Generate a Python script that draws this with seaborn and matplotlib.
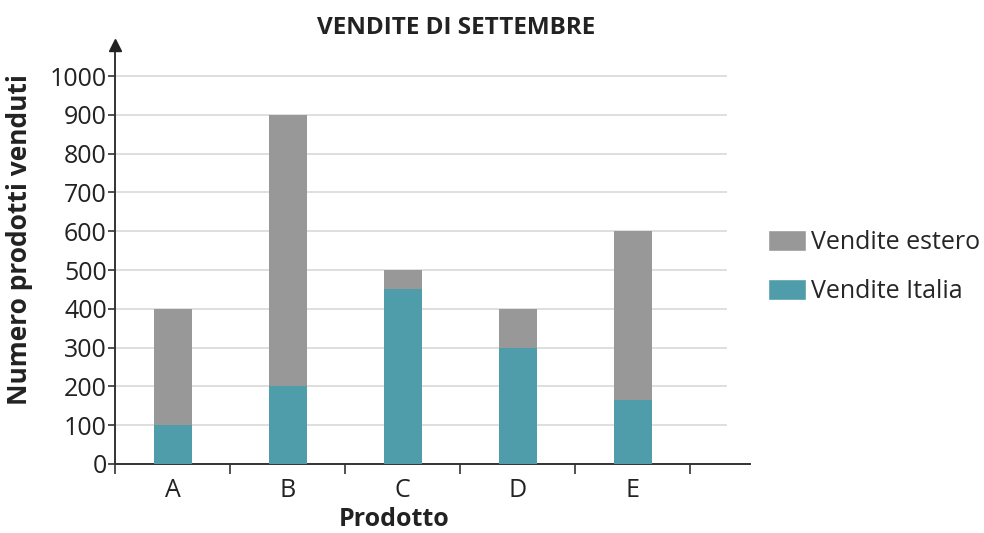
import numpy as np
import pandas as pd
import seaborn as sns
import matplotlib.pyplot as plt
from matplotlib.patches import Patch

prodotti = ["A", "B", "C", "D", "E"]
vendite_italia = [100, 200, 450, 300, 165]
vendite_estero = [300, 700, 50, 100, 435]
y_ticks = [0, 100, 200, 300, 400, 500, 600, 700, 800, 900, 1000]

col_italia = "#4f9cab"
col_estero = "#989898"

df = pd.DataFrame({"prodotto": prodotti,
                   "italia": vendite_italia,
                   "estero": vendite_estero})
df["totale"] = df["italia"] + df["estero"]

sns.set_theme(style="white")
plt.rcParams["font.family"] = ["Open Sans", "DejaVu Sans"]

fig = plt.figure(figsize=(9.84, 5.33), dpi=100)
ax = fig.add_axes([0.117, 0.1295, 0.622, 0.786])

# gridlines first, behind the bars
for v in y_ticks[1:]:
    ax.axhline(v, color="#dcdcdc", lw=1.3, zorder=0)

sns.barplot(data=df, x="prodotto", y="totale", color=col_estero,
            width=0.33, saturation=1, linewidth=0, ax=ax, zorder=2)
sns.barplot(data=df, x="prodotto", y="italia", color=col_italia,
            width=0.33, saturation=1, linewidth=0, ax=ax, zorder=3)

ax.set_xlim(-0.5, 4.82)
ax.set_ylim(0, 1080)

ax.set_yticks(y_ticks)
ax.set_yticklabels([str(v) for v in y_ticks], fontsize=18, color="#222222")
ax.tick_params(axis="y", direction="out", length=5, width=1.2,
               color="#333333", pad=1, left=True)

ax.set_xticks(range(len(prodotti)))
ax.set_xticklabels(prodotti, fontsize=18, color="#222222")
ax.set_xticks(np.arange(-0.5, 5.0, 1.0), minor=True)
ax.tick_params(axis="x", which="major", length=0, pad=10)
ax.tick_params(axis="x", which="minor", direction="out", length=7,
               width=1.2, color="#333333", bottom=True)

for s in ["top", "right"]:
    ax.spines[s].set_visible(False)
ax.spines["left"].set_color("#333333")
ax.spines["left"].set_linewidth(1.4)
ax.spines["bottom"].set_color("#333333")
ax.spines["bottom"].set_linewidth(1.4)
ax.spines["bottom"].set_bounds(-0.5, 5.02)

# arrow on top of the y axis
ax.plot([-0.5], [1080], marker="^", markersize=8, color="#222222",
        clip_on=False, zorder=5)

ax.set_xlabel("Prodotto", fontsize=18, fontweight="bold", color="#222222")
ax.xaxis.set_label_coords(0.456, -0.102)
ax.set_ylabel("Numero prodotti venduti", fontsize=19, fontweight="bold",
              color="#222222")
ax.yaxis.set_label_coords(-0.134, 0.535)

fig.text(0.464, 0.947, "VENDITE DI SETTEMBRE", fontsize=17.5,
         fontweight="bold", color="#222222", ha="center", va="center")

handles = [Patch(facecolor=col_estero, label="Vendite estero"),
           Patch(facecolor=col_italia, label="Vendite Italia")]
ax.legend(handles=handles, loc="center left", bbox_to_anchor=(1.067, 0.47),
          frameon=False, fontsize=18, handlelength=1.52, handleheight=0.92,
          handletextpad=0.2, labelspacing=0.94, borderaxespad=0,
          borderpad=0)

fig.savefig("out.png", dpi=100)
